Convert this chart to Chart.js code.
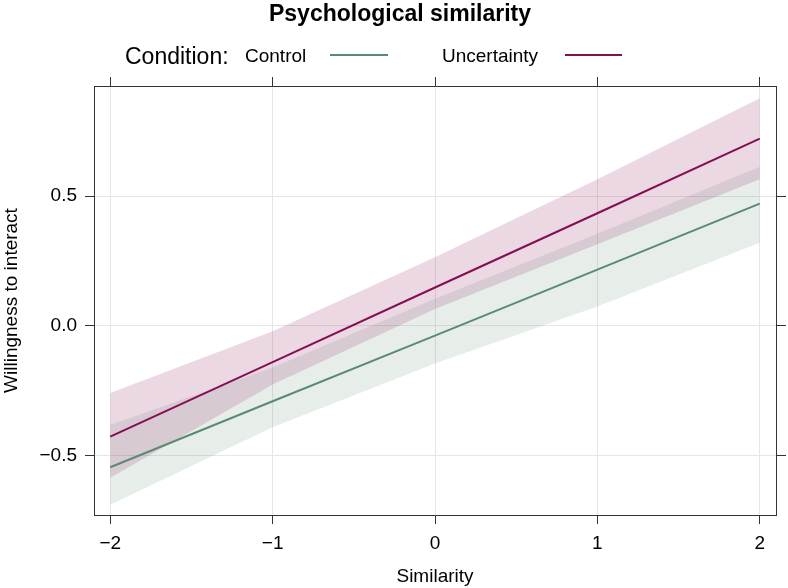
<!DOCTYPE html>
<html>
<head>
<meta charset="utf-8">
<title>Psychological similarity</title>
<script src="https://cdn.jsdelivr.net/npm/chart.js@4.4.1/dist/chart.umd.min.js"></script>
<style>
  body { margin: 0; background: #fff; font-family: "Liberation Sans", Arial, sans-serif; color: #000; }
  #wrap { position: relative; width: 788px; height: 588px; }
  #titulo { position: absolute; left: 0; top: 0; width: 800px; text-align: center; font-weight: bold; font-size: 23px; line-height: 26px; }
  .leg { position: absolute; top: 43px; line-height: 26px; white-space: nowrap; font-size: 19px; }
  .linea { position: absolute; top: 54px; height: 2px; }
</style>
</head>
<body>
<div id="wrap">
  <canvas id="grafico" width="788" height="588"></canvas>
  <div id="titulo">Psychological similarity</div>
  <div class="leg" style="left:125px; font-size:23px">Condition:</div>
  <div class="leg" style="left:245px">Control</div>
  <div class="linea" id="linControl" style="left:330px; width:58px"></div>
  <div class="leg" style="left:442px">Uncertainty</div>
  <div class="linea" id="linUncert" style="left:565px; width:57px"></div>
</div>
<script>
// valores
const similitud = [-2, -1, 0, 1, 2]
const condiciones = ['Control', 'Uncertainty']
const control = [-0.544, -0.290, -0.037, 0.217, 0.471]
const controlSup = [-0.381, -0.160, 0.105, 0.355, 0.613]
const controlInf = [-0.689, -0.390, -0.145, 0.075, 0.320]
const incert = [-0.426, -0.139, 0.148, 0.434, 0.721]
const incertSup = [-0.258, -0.020, 0.265, 0.565, 0.877]
const incertInf = [-0.585, -0.225, 0.065, 0.315, 0.565]

const ticksX = [-2, -1, 0, 1, 2]
const etiquetasX = ['\u22122', '\u22121', '0', '1', '2']
const ticksY = [-0.5, 0, 0.5]
const etiquetasY = ['\u22120.5', '0.0', '0.5']
const rangoX = [-2.1, 2.1]
const rangoY = [-0.728, 0.924]

const colControl = '#5b8a73'
const colUncert = '#850f52'
document.getElementById('linControl').style.background = colControl
document.getElementById('linUncert').style.background = colUncert

function puntos(valores) {
    return similitud.map((x, i) => ({ x: x, y: valores[i] }))
}

const negro = '#333'
const fuente = { family: '"Liberation Sans", Arial, sans-serif', size: 19 }

const datasets = [
    { label: condiciones[1], data: puntos(incert), borderColor: colUncert, borderWidth: 2, fill: false },
    { label: condiciones[0], data: puntos(control), borderColor: colControl, borderWidth: 2, fill: false },
    { label: 'sup1', data: puntos(incertSup), borderColor: 'transparent', borderWidth: 0, fill: '+1', backgroundColor: 'rgba(133,15,82,0.16)' },
    { label: 'inf1', data: puntos(incertInf), borderColor: 'transparent', borderWidth: 0, fill: false },
    { label: 'sup0', data: puntos(controlSup), borderColor: 'transparent', borderWidth: 0, fill: '+1', backgroundColor: 'rgba(91,138,115,0.15)' },
    { label: 'inf0', data: puntos(controlInf), borderColor: 'transparent', borderWidth: 0, fill: false }
]

const ponerX = s => { s.ticks = ticksX.map(v => ({ value: v })) }
const ponerY = s => { s.ticks = ticksY.map(v => ({ value: v })) }

const config = {
    type: 'line',
    data: { datasets },
    options: {
        responsive: false,
        animation: false,
        layout: { padding: 0 },
        elements: { point: { radius: 0 }, line: { tension: 0 } },
        plugins: { legend: { display: false }, title: { display: false }, tooltip: { enabled: false } },
        scales: {
            x: {
                type: 'linear', position: 'bottom', min: rangoX[0], max: rangoX[1],
                afterBuildTicks: ponerX,
                afterFit: s => { s.height = 73 },
                grid: { color: '#e6e6e6', tickColor: negro, tickLength: 9 },
                border: { color: negro, width: 1 },
                ticks: { color: '#000', font: fuente, padding: 8, maxRotation: 0, autoSkip: false,
                    callback: (v, i) => etiquetasX[i] },
                title: { display: true, text: 'Similarity', color: '#000', font: fuente, padding: 0 }
            },
            x2: {
                type: 'linear', position: 'top', min: rangoX[0], max: rangoX[1],
                afterBuildTicks: ponerX,
                afterFit: s => { s.height = 86 },
                grid: { drawOnChartArea: false, tickColor: negro, tickLength: 9 },
                border: { color: negro, width: 1 },
                ticks: { display: false }
            },
            y: {
                type: 'linear', position: 'left', min: rangoY[0], max: rangoY[1],
                afterBuildTicks: ponerY,
                afterFit: s => { s.width = 94 },
                grid: { color: '#e6e6e6', tickColor: negro, tickLength: 9 },
                border: { color: negro, width: 1 },
                ticks: { color: '#000', font: fuente, padding: 8, autoSkip: false,
                    callback: (v, i) => etiquetasY[i] },
                title: { display: true, text: 'Willingness to interact', color: '#000', font: fuente, padding: 0 }
            },
            y2: {
                type: 'linear', position: 'right', min: rangoY[0], max: rangoY[1],
                afterBuildTicks: ponerY,
                afterFit: s => { s.width = 12 },
                grid: { drawOnChartArea: false, tickColor: negro, tickLength: 10 },
                border: { color: negro, width: 1 },
                ticks: { display: false }
            }
        }
    }
}

const myChart = new Chart(document.getElementById('grafico'), config)
</script>
</body>
</html>
